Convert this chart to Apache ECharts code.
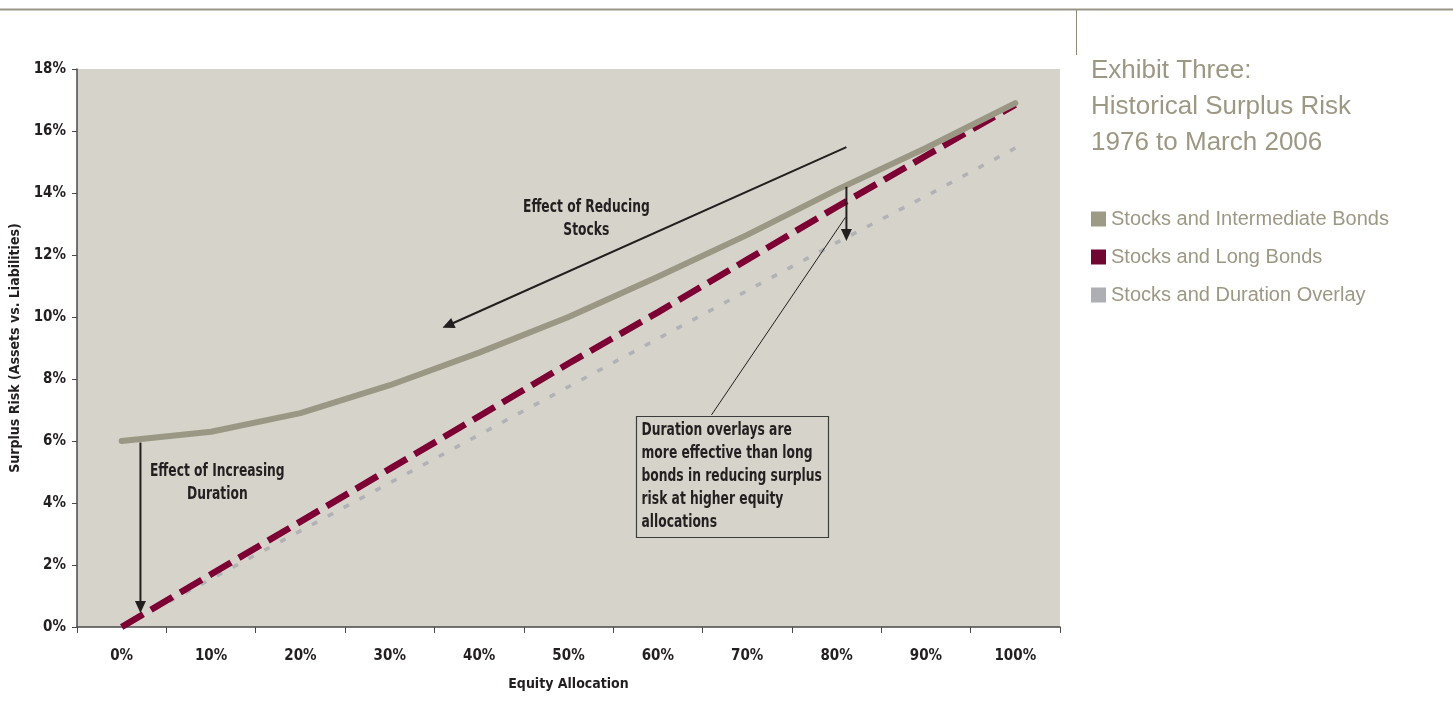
<!DOCTYPE html>
<html>
<head>
<meta charset="utf-8">
<script src="https://cdn.jsdelivr.net/npm/echarts@6/dist/echarts.min.js"></script>
<style>
  html, body { margin: 0; padding: 0; background: #ffffff; }
  #chart { width: 1453px; height: 713px; }
</style>
</head>
<body>
<div id="chart"></div>
<script>
// Equity allocation steps
const categories = ['0%', '10%', '20%', '30%', '40%', '50%', '60%', '70%', '80%', '90%', '100%'];

// Surplus risk (%) for each portfolio mix
const intermediateBonds = [6.0, 6.3, 6.9, 7.8, 8.85, 10.0, 11.3, 12.65, 14.1, 15.45, 16.9];
const longBonds = [0, 1.7, 3.4, 5.1, 6.8, 8.5, 10.15, 11.85, 13.55, 15.2, 16.85];
const durationOverlay = [0, 1.55, 3.1, 4.65, 6.2, 7.75, 9.3, 10.85, 12.4, 13.9, 15.45];

// Value axis range
const yMin = 0;
const yMax = 18;
const yStep = 2;

const seriesNames = ['Stocks and Intermediate Bonds', 'Stocks and Long Bonds', 'Stocks and Duration Overlay'];

const NARROW = "'Liberation Sans Narrow', 'DejaVu Sans Condensed', sans-serif";
const PLAIN = "'Liberation Sans', Arial, Helvetica, sans-serif";
const INK = '#231f20';
const TAUPE = '#9c9884';

const chart = echarts.init(document.getElementById('chart'), null, { renderer: 'canvas' });

chart.setOption({
  backgroundColor: '#ffffff',
  animation: false,
  title: {
    text: 'Exhibit Three:\nHistorical Surplus Risk\n1976 to March 2006',
    left: 1086,
    top: 48,
    textStyle: {
      color: TAUPE,
      fontFamily: PLAIN,
      fontWeight: 'normal',
      fontSize: 26,
      lineHeight: 36
    }
  },
  legend: {
    orient: 'vertical',
    left: 1086,
    top: 203,
    itemWidth: 15,
    itemHeight: 15,
    itemGap: 16,
    icon: 'rect',
    data: seriesNames,
    textStyle: { color: TAUPE, fontFamily: PLAIN, fontSize: 20, lineHeight: 22, padding: [0, 0, 0, 0] },
    selectedMode: false
  },
  grid: {
    left: 77,
    right: 393,
    top: 69,
    bottom: 86,
    show: true,
    backgroundColor: '#d6d3ca',
    borderWidth: 0,
    containLabel: false,
    outerBoundsMode: 'none'
  },
  xAxis: {
    type: 'category',
    data: categories,
    boundaryGap: true,
    name: 'Equity Allocation',
    nameLocation: 'middle',
    nameGap: 50,
    nameTextStyle: { color: INK, fontFamily: NARROW, fontWeight: 'bold', fontSize: 14 },
    axisLine: { show: true, lineStyle: { color: '#4a4a4a', width: 1.5 } },
    axisTick: { show: true, alignWithLabel: false, length: 6, lineStyle: { color: '#4a4a4a', width: 1 } },
    axisLabel: { color: INK, fontFamily: NARROW, fontWeight: 'bold', fontSize: 15, margin: 22 },
    splitLine: { show: false }
  },
  yAxis: {
    type: 'value',
    min: yMin,
    max: yMax,
    interval: yStep,
    name: 'Surplus Risk (Assets vs. Liabilities)',
    nameLocation: 'middle',
    nameGap: 53,
    nameRotate: 90,
    nameTextStyle: { color: INK, fontFamily: NARROW, fontWeight: 'bold', fontSize: 14 },
    axisLine: { show: true, lineStyle: { color: '#4a4a4a', width: 1.5 } },
    axisTick: { show: true, length: 5, lineStyle: { color: '#4a4a4a', width: 1 } },
    axisLabel: { color: INK, fontFamily: NARROW, fontWeight: 'bold', fontSize: 15, margin: 11, formatter: '{value}%' },
    splitLine: { show: false }
  },
  series: [
    {
      name: seriesNames[2],
      type: 'line',
      data: durationOverlay,
      showSymbol: false,
      z: 2,
      itemStyle: { color: '#aeafb4' },
      lineStyle: { color: '#b1b1b6', width: 3.5, type: [6, 12], cap: 'butt' }
    },
    {
      name: seriesNames[1],
      type: 'line',
      data: longBonds,
      showSymbol: false,
      z: 3,
      itemStyle: { color: '#6e0833' },
      lineStyle: { color: '#7d0035', width: 6.5, type: [25, 9], cap: 'butt' }
    },
    {
      name: seriesNames[0],
      type: 'line',
      data: intermediateBonds,
      showSymbol: false,
      z: 4,
      itemStyle: { color: '#9d9a86' },
      lineStyle: { color: '#9a9884', width: 6, cap: 'round', join: 'round' }
    }
  ]
});

// Annotation anchors in (category index, percent) units
const notes = {
  reduceArrow: { from: [8.11, 15.48], to: [3.59, 9.65] },
  reduceText: { at: [5.2, 13.18], text: 'Effect of Reducing\nStocks' },
  durationArrow: { from: [0.21, 5.95], to: [0.21, 0.45] },
  durationText: { at: [1.07, 4.66], text: 'Effect of Increasing\nDuration' },
  shortArrow: { from: [8.11, 14.2], to: [8.11, 12.45] },
  leader: { from: [6.6, 6.84], to: [8.1, 13.22] },
  box: { topLeft: [5.75, 6.81], bottomRight: [7.9, 2.9] },
  boxText: 'Duration overlays are\nmore effective than long\nbonds in reducing surplus\nrisk at higher equity\nallocations'
};

// condensed lettering: horizontal squeeze applied to annotation text
const SQUEEZE = 0.76;

function toPx(p) {
  const a = chart.convertToPixel({ gridIndex: 0 }, [0, p[1]]);
  const b = chart.convertToPixel({ gridIndex: 0 }, [10, p[1]]);
  return [a[0] + (b[0] - a[0]) * p[0] / 10, a[1]];
}

function arrow(fromPt, toPt, headLen, headWid) {
  const p1 = toPx(fromPt);
  const p2 = toPx(toPt);
  const dx = p2[0] - p1[0];
  const dy = p2[1] - p1[1];
  const len = Math.sqrt(dx * dx + dy * dy);
  const ux = dx / len, uy = dy / len;
  const bx = p2[0] - ux * headLen, by = p2[1] - uy * headLen;
  const nx = -uy * headWid / 2, ny = ux * headWid / 2;
  return [
    {
      type: 'line', z: 20,
      shape: { x1: p1[0], y1: p1[1], x2: bx + ux * 2, y2: by + uy * 2 },
      style: { stroke: INK, lineWidth: 2 }
    },
    {
      type: 'polygon', z: 20,
      shape: { points: [[p2[0], p2[1]], [bx + nx, by + ny], [bx - nx, by - ny]] },
      style: { fill: INK }
    }
  ];
}

function textEl(x, y, text, align, vAlign) {
  return {
    type: 'text', z: 21,
    x: x, y: y,
    scaleX: SQUEEZE, scaleY: 1,
    style: {
      text: text, x: 0, y: 0,
      fill: INK,
      font: 'bold 18px ' + NARROW,
      textAlign: align,
      textVerticalAlign: vAlign,
      lineHeight: 23
    }
  };
}

function buildGraphics() {
  const els = [];
  // page rule across the top and short divider by the heading
  els.push({ type: 'line', shape: { x1: 0, y1: 9.5, x2: 1453, y2: 9.5 }, style: { stroke: '#9a9686', lineWidth: 2 } });
  els.push({ type: 'line', shape: { x1: 1076.5, y1: 10, x2: 1076.5, y2: 55 }, style: { stroke: '#8f8b7b', lineWidth: 1 } });

  els.push(...arrow(notes.reduceArrow.from, notes.reduceArrow.to, 12, 11));
  const rt = toPx(notes.reduceText.at);
  els.push(textEl(rt[0], rt[1], notes.reduceText.text, 'center', 'middle'));
  els.push(...arrow(notes.durationArrow.from, notes.durationArrow.to, 12, 11));
  const dt = toPx(notes.durationText.at);
  els.push(textEl(dt[0], dt[1], notes.durationText.text, 'center', 'middle'));
  els.push(...arrow(notes.shortArrow.from, notes.shortArrow.to, 12, 11));

  const l1 = toPx(notes.leader.from), l2 = toPx(notes.leader.to);
  els.push({ type: 'line', z: 20, shape: { x1: l1[0], y1: l1[1], x2: l2[0], y2: l2[1] }, style: { stroke: INK, lineWidth: 1 } });

  const tl = toPx(notes.box.topLeft), br = toPx(notes.box.bottomRight);
  els.push({
    type: 'rect', z: 20,
    shape: { x: Math.round(tl[0]) + 0.5, y: Math.round(tl[1]) + 0.5, width: Math.round(br[0] - tl[0]), height: Math.round(br[1] - tl[1]) },
    style: { fill: '#d6d3ca', stroke: '#3c3c3c', lineWidth: 1.2 }
  });
  els.push(textEl(tl[0] + 6, tl[1] + 3, notes.boxText, 'left', 'top'));
  return els;
}

chart.setOption({ graphic: { elements: buildGraphics() } });
</script>
</body>
</html>
